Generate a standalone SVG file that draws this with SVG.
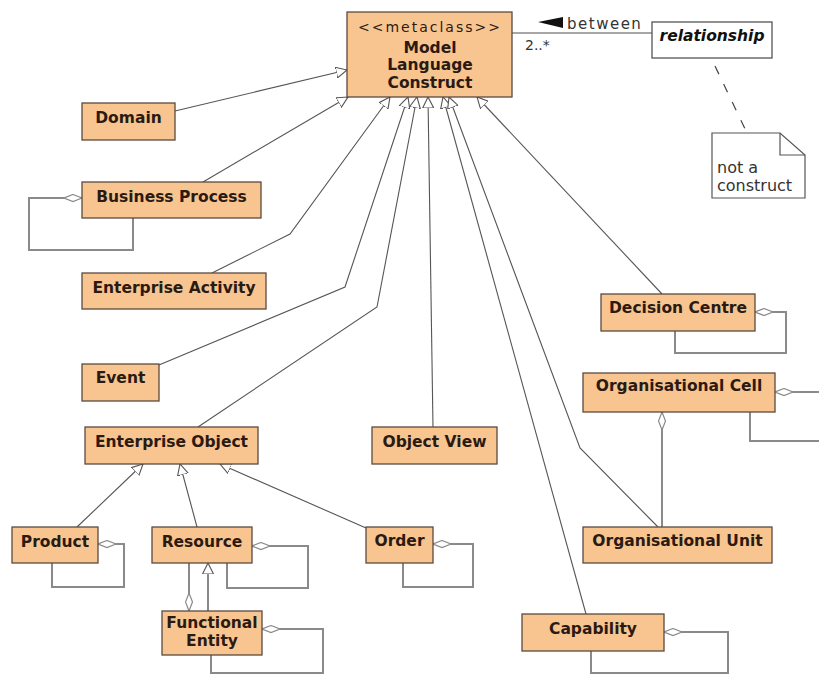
<svg xmlns="http://www.w3.org/2000/svg" width="819" height="675" viewBox="0 0 819 675">
<style>
.box{fill:#F8C590;stroke:#5a4a40;stroke-width:1.3}
.wbox{fill:#ffffff;stroke:#555;stroke-width:1.3}
.t{font-family:"DejaVu Sans",sans-serif;font-weight:bold;font-size:15.5px;fill:#2b1a12;text-anchor:middle}
.r{font-family:"DejaVu Sans",sans-serif;font-size:15px;fill:#333}
.gen{fill:none;stroke:#555;stroke-width:1.1;marker-end:url(#tri)}
.agg{fill:none;stroke:#8a8a8a;stroke-width:2;marker-start:url(#dia)}
</style>
<defs>
<marker id="tri" markerUnits="userSpaceOnUse" markerWidth="13" markerHeight="12" refX="11" refY="6" orient="auto" viewBox="0 0 13 12">
<path d="M0,0.5 L11,6 L0,11.5 Z" fill="#fff" stroke="#555" stroke-width="1.1"/>
</marker>
<marker id="dia" markerUnits="userSpaceOnUse" markerWidth="19" markerHeight="9" refX="0.5" refY="4.5" orient="auto" viewBox="0 0 19 9">
<path d="M0.5,4.5 L9.5,1 L18.5,4.5 L9.5,8 Z" fill="#fff" stroke="#8a8a8a" stroke-width="1.2"/>
</marker>
</defs>
<rect width="819" height="675" fill="#fff"/>
<g id="connectors">
<path class="gen" d="M175,111 L347,70"/>
<path class="gen" d="M203,182 L348,97"/>
<path class="gen" d="M212,273 L290,234 L390,97"/>
<path class="gen" d="M159,365 L345,287 L408,97"/>
<path class="gen" d="M198,427 L377,307 L417,97"/>
<path class="gen" d="M433,427 L428,97"/>
<path class="gen" d="M586,614 L443,97"/>
<path class="gen" d="M658,527 L580,448 L449,97"/>
<path class="gen" d="M662,294 L477,97"/>
<path class="gen" d="M77,527 L143,464"/>
<path class="gen" d="M197,527 L180,464"/>
<path class="gen" d="M366,528 L220,464"/>
<path class="gen" d="M208,611 L208,563" style="stroke:#8a8a8a;stroke-width:2"/>
<path class="agg" d="M189,611 L189,563"/>
<path class="agg" d="M662,412 L662,527"/>
<path class="agg" d="M82,198 H29 V250 H133 V218"/>
<path class="agg" d="M98,544 H124 V587 H52 V563"/>
<path class="agg" d="M252,546 H308 V588 H227 V563"/>
<path class="agg" d="M262,629 H323 V673 H211 V655"/>
<path class="agg" d="M433,544 H473 V587 H403 V563"/>
<path class="agg" d="M755,312 H786 V353 H675 V331"/>
<path class="agg" d="M775,392 H822 V441 H750 V412"/>
<path class="agg" d="M664,632 H728 V673 H591 V651"/>
<path d="M512,33 H652" fill="none" stroke="#8a8a8a" stroke-width="1.6"/>
<path d="M538,22 L563,17 L563,28 Z" fill="#111"/>
<text class="r" x="567" y="29" style="letter-spacing:1.5px">between</text>
<text class="r" x="525" y="50" style="font-size:14px">2..*</text>
<path d="M715,66 L747,133" fill="none" stroke="#444" stroke-width="1.2" stroke-dasharray="9,11"/>
</g>
<g id="metaclass">
<rect class="box" x="347" y="12" width="165" height="85"/>
<text class="r" x="430" y="32" text-anchor="middle" style="font-size:14px;letter-spacing:2px;fill:#2b1a12">&lt;&lt;metaclass&gt;&gt;</text>
<text class="t" x="430" y="53">Model</text>
<text class="t" x="430" y="70">Language</text>
<text class="t" x="430" y="88">Construct</text>
</g>
<g id="relationship">
<rect class="wbox" x="652" y="22" width="120" height="36"/>
<text class="t" x="712" y="41" style="font-style:italic;fill:#111">relationship</text>
</g>
<g id="note">
<path d="M712,133 H780 L805,155 V198 H712 Z" fill="#fff" stroke="#555" stroke-width="1.2"/>
<path d="M780,133 V155 H805" fill="none" stroke="#555" stroke-width="1.2"/>
<text class="r" x="717" y="173" style="font-size:16px">not a</text>
<text class="r" x="717" y="191" style="font-size:16px">construct</text>
</g>
<g id="domain"><rect class="box" x="82" y="103" width="93" height="37"/><text class="t" x="128.5" y="123">Domain</text></g>
<g id="business-process"><rect class="box" x="82" y="182" width="179" height="36"/><text class="t" x="171.5" y="202">Business Process</text></g>
<g id="enterprise-activity"><rect class="box" x="82" y="273" width="184" height="36"/><text class="t" x="174" y="293">Enterprise Activity</text></g>
<g id="event"><rect class="box" x="82" y="364" width="77" height="37"/><text class="t" x="120.5" y="383">Event</text></g>
<g id="enterprise-object"><rect class="box" x="85" y="427" width="173" height="37"/><text class="t" x="171.5" y="447">Enterprise Object</text></g>
<g id="product"><rect class="box" x="12" y="527" width="86" height="36"/><text class="t" x="55" y="547">Product</text></g>
<g id="resource"><rect class="box" x="152" y="527" width="100" height="36"/><text class="t" x="202" y="547">Resource</text></g>
<g id="functional-entity"><rect class="box" x="162" y="611" width="100" height="44"/><text class="t" x="212" y="628">Functional</text><text class="t" x="212" y="646">Entity</text></g>
<g id="order"><rect class="box" x="366" y="527" width="67" height="36"/><text class="t" x="399.5" y="546">Order</text></g>
<g id="object-view"><rect class="box" x="372" y="427" width="125" height="37"/><text class="t" x="434.5" y="447">Object View</text></g>
<g id="decision-centre"><rect class="box" x="601" y="294" width="154" height="37"/><text class="t" x="678" y="313">Decision Centre</text></g>
<g id="organisational-cell"><rect class="box" x="583" y="373" width="192" height="39"/><text class="t" x="679" y="391">Organisational Cell</text></g>
<g id="organisational-unit"><rect class="box" x="583" y="527" width="189" height="36"/><text class="t" x="677.5" y="546">Organisational Unit</text></g>
<g id="capability"><rect class="box" x="522" y="614" width="142" height="37"/><text class="t" x="593" y="634">Capability</text></g>
</svg>
